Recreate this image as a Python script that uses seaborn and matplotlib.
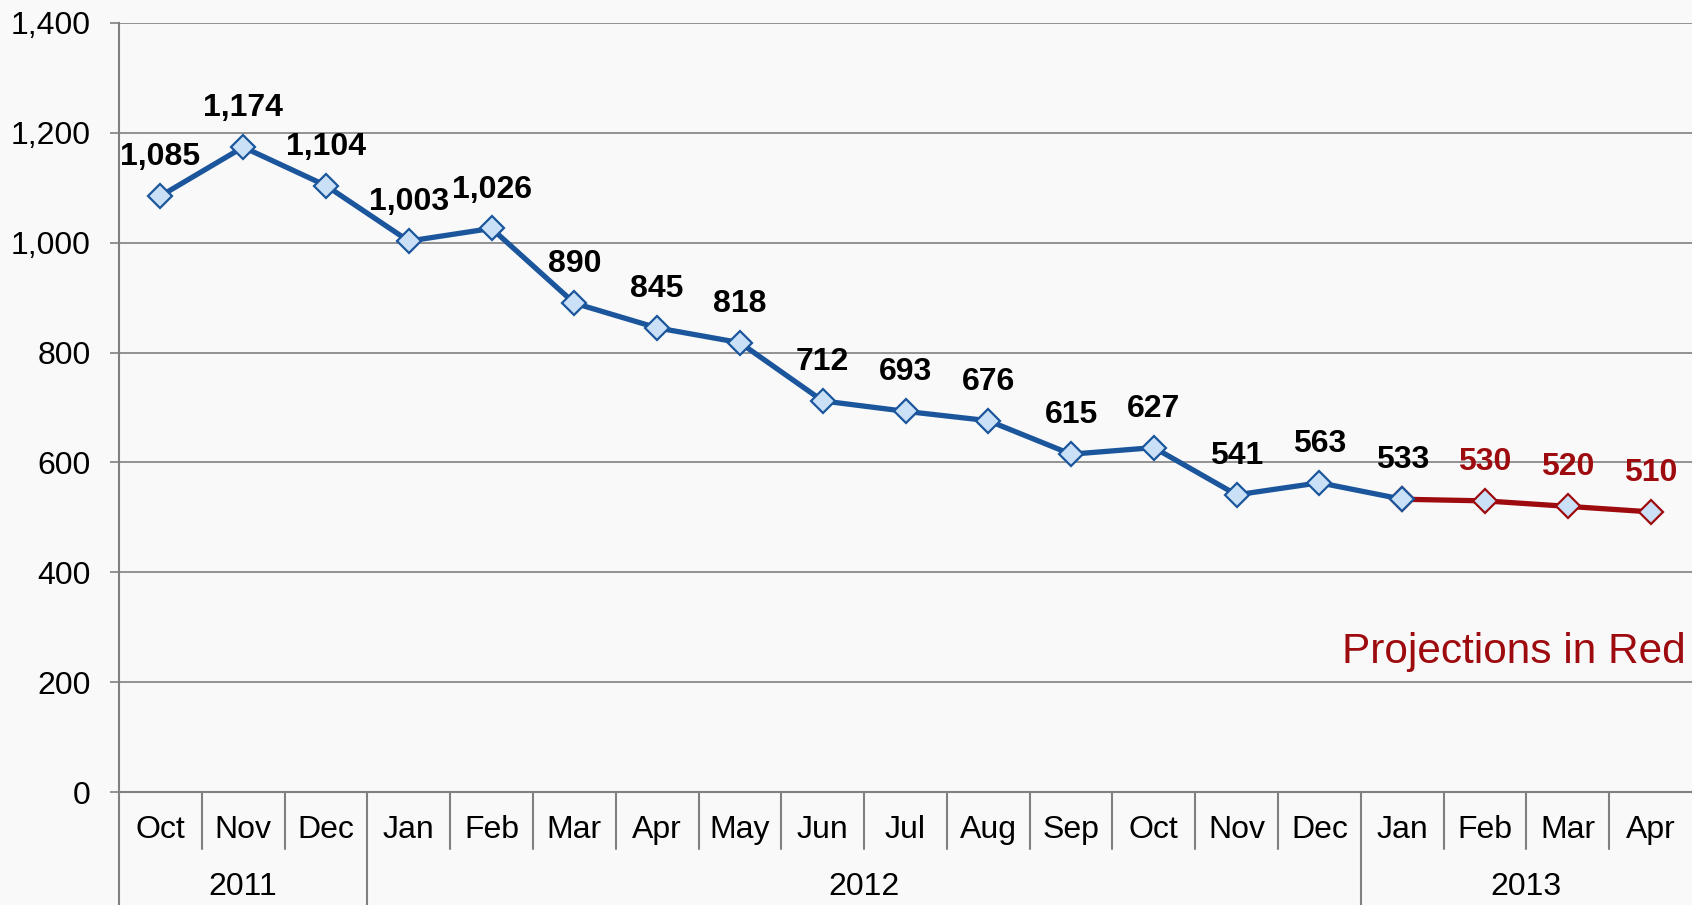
import pandas as pd
import matplotlib
matplotlib.use("Agg")
import matplotlib.pyplot as plt
import matplotlib.transforms as mtrans
from matplotlib.ticker import FuncFormatter
import seaborn as sns

# data
months = ["Oct", "Nov", "Dec", "Jan", "Feb", "Mar", "Apr", "May", "Jun", "Jul",
          "Aug", "Sep", "Oct", "Nov", "Dec", "Jan", "Feb", "Mar", "Apr"]
years = ["2011", "2012", "2013"]
year_first = [0, 3, 15]   # first month index of each year
year_last = [2, 14, 18]
values = [1085, 1174, 1104, 1003, 1026, 890, 845, 818, 712, 693,
          676, 615, 627, 541, 563, 533, 530, 520, 510]
n_actual = 16  # Oct 2011 .. Jan 2013 are actuals, rest projections

blue = "#1B569C"
red = "#9E0B0F"
light = "#C9E0F7"
grey = "#808080"
bg = "#f9f9f9"

sns.set_style("white")
plt.rcParams["font.family"] = ["Liberation Sans", "DejaVu Sans"]
plt.rcParams["text.color"] = "black"
plt.rcParams["ytick.labelcolor"] = "black"

df = pd.DataFrame({"x": range(len(months)), "value": values})
actual = df.iloc[:n_actual]
proj = df.iloc[n_actual - 1:]

fig = plt.figure(figsize=(16.92, 9.05), dpi=100, facecolor=bg)
ax = fig.add_axes([119 / 1692, 1 - 792 / 905, 1 - 119 / 1692, 769 / 905])
ax.set_facecolor(bg)

sns.lineplot(data=proj, x="x", y="value", ax=ax, color=red, lw=3.8,
             marker="D", markersize=12.5, mfc=light, mec=red, mew=1.6, zorder=3)
sns.lineplot(data=actual, x="x", y="value", ax=ax, color=blue, lw=3.8,
             marker="D", markersize=12.5, mfc=light, mec=blue, mew=1.6, zorder=4)

# data labels
for i, v in enumerate(values):
    ax.annotate(f"{v:,}", (i, v), xytext=(0, 28), textcoords="offset points",
                ha="center", va="center", fontsize=23, fontweight="bold",
                color="black" if i < n_actual else red, zorder=5)

ax.set_xlim(-0.5, len(months) - 0.5)
ax.set_ylim(0, 1400)
ax.set_yticks(range(0, 1401, 200))
ax.yaxis.set_major_formatter(FuncFormatter(lambda v, p: f"{int(v):,}"))
ax.tick_params(axis="y", left=True, length=6.5, width=1.2, color=grey,
               labelsize=23, labelcolor="black", pad=14)
ax.set_xticks([])
ax.set_xlabel("")
ax.set_ylabel("")
ax.yaxis.grid(True, color=grey, lw=1.2)
ax.set_axisbelow(True)
for s in ["top", "right"]:
    ax.spines[s].set_visible(False)
ax.spines["left"].set_color(grey)
ax.spines["left"].set_linewidth(1.5)
ax.spines["bottom"].set_color(grey)
ax.spines["bottom"].set_linewidth(1.5)

# two-level category axis
trans = mtrans.blended_transform_factory(ax.transData, ax.transAxes)
for i, m in enumerate(months):
    ax.text(i, -0.049, m, transform=trans, ha="center", va="center",
            fontsize=23, color="black")
    if i > 0 and i not in year_first:
        ax.plot([i - 0.5, i - 0.5], [0, -0.074], transform=trans, color=grey,
                lw=1.5, clip_on=False)
for y, a, b in zip(years, year_first, year_last):
    ax.text((a + b) / 2, -0.1235, y, transform=trans, ha="center", va="center",
            fontsize=23, color="black")
    ax.plot([a - 0.5, a - 0.5], [0, -0.16], transform=trans, color=grey,
            lw=1.5, clip_on=False)

ax.text(0.996, 140 / 769, "Projections in Red", transform=ax.transAxes,
        ha="right", va="center", fontsize=30.5, color=red)

fig.savefig("out.png", dpi=100, facecolor=bg)
